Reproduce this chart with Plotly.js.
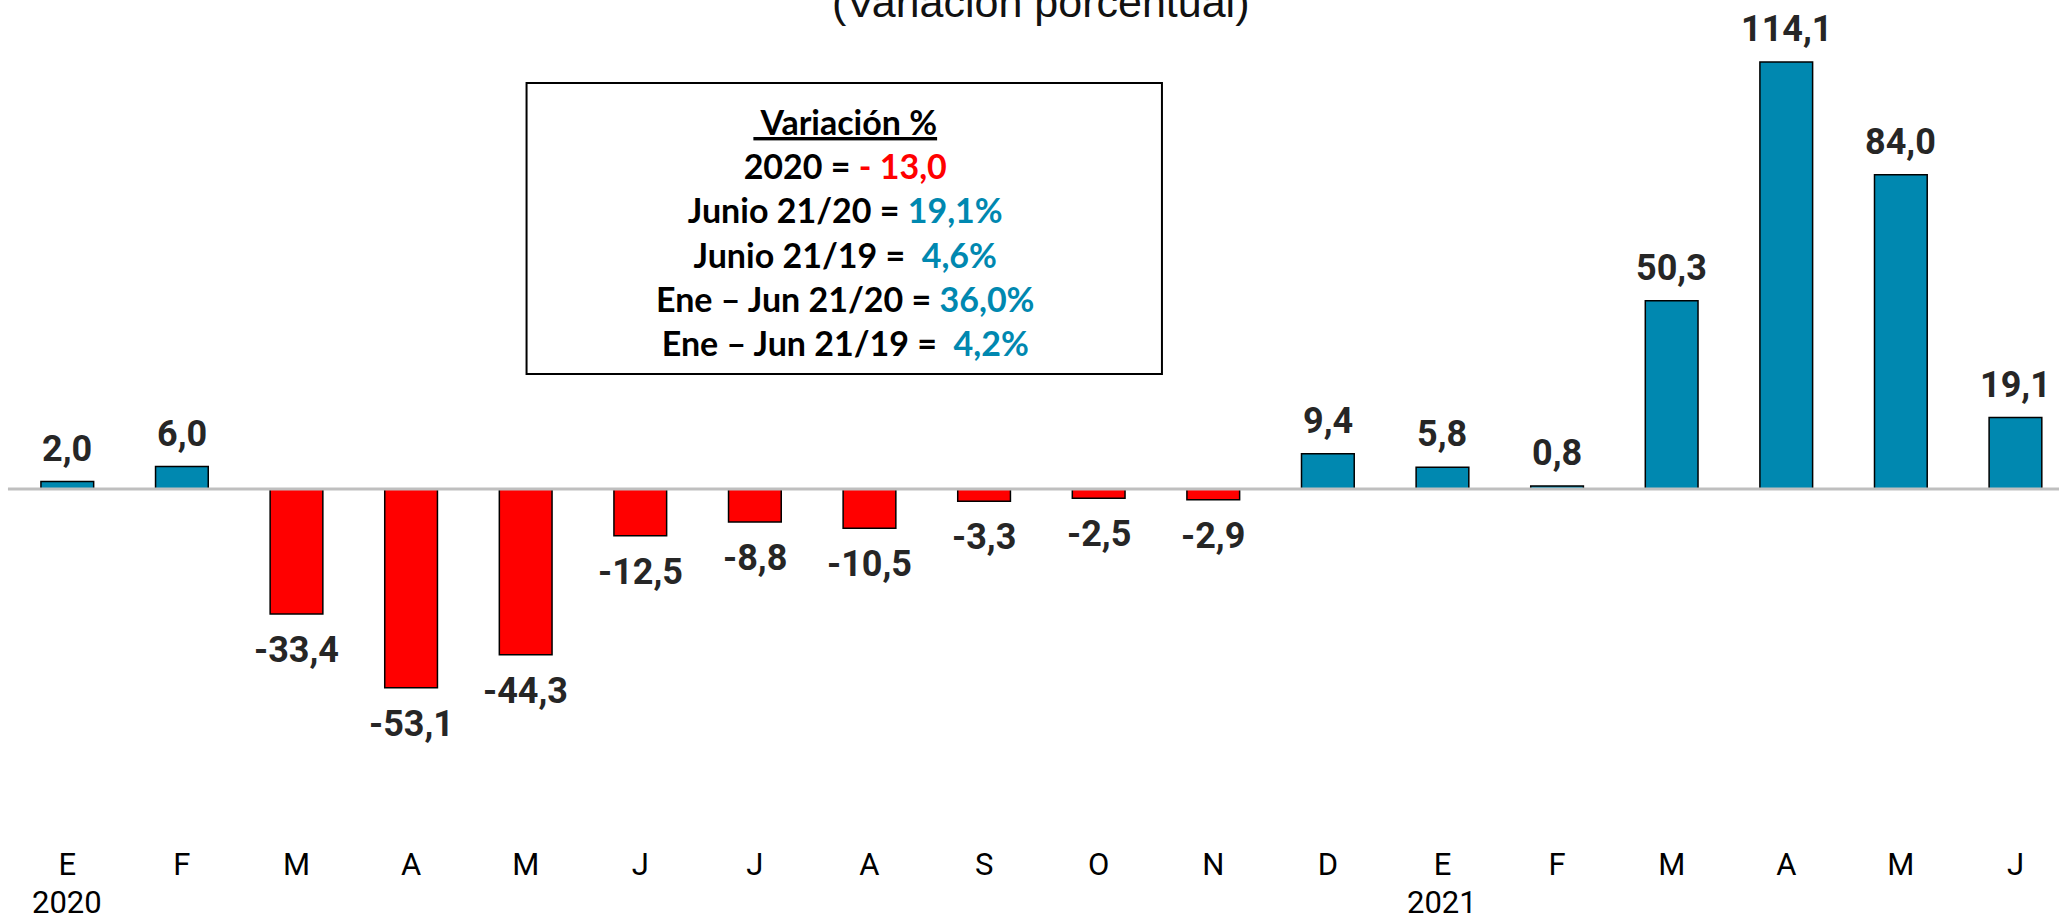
<!DOCTYPE html>
<html>
<head>
<meta charset="utf-8">
<script src="https://cdn.plot.ly/plotly-3.0.1.min.js"></script>
<style>html,body{margin:0;padding:0;background:#fff;}#chart{width:2059px;height:918px;}</style>
</head>
<body>
<div id="chart"></div>
<script>
// ---- data ----
const periods = ["Ene 2020","Feb 2020","Mar 2020","Abr 2020","May 2020","Jun 2020","Jul 2020","Ago 2020","Sep 2020","Oct 2020","Nov 2020","Dic 2020","Ene 2021","Feb 2021","Mar 2021","Abr 2021","May 2021","Jun 2021"];
const monthLabels = ["E","F","M","A","M","J","J","A","S","O","N","D","E","F","M","A","M","J"];
const values = [2.0, 6.0, -33.4, -53.1, -44.3, -12.5, -8.8, -10.5, -3.3, -2.5, -2.9, 9.4, 5.8, 0.8, 50.3, 114.1, 84.0, 19.1];
const yearLabels = ["2020", "2021"];
const yearPeriods = ["Ene 2020", "Ene 2021"];
const titleText = "(Variación porcentual)";
const boxLines = [
  "<u>\u00A0Variación %</u>",
  "2020 = <span style='color:#FF0000'>- 13,0</span>",
  "Junio 21/20 = <span style='color:#0088B0'>19,1%</span>",
  "Junio 21/19 = \u00A0<span style='color:#0088B0'>4,6%</span>",
  "Ene – Jun 21/20 = <span style='color:#0088B0'>36,0%</span>",
  "Ene – Jun 21/19 = \u00A0<span style='color:#0088B0'>4,2%</span>"
];

const BLUE = "#0088B0", RED = "#FF0000";
const fmt = v => v.toFixed(1).replace(".", ",");

const trace = {
  type: "bar",
  x: periods,
  y: values,
  width: 0.46,
  marker: {
    color: values.map(v => v < 0 ? RED : BLUE),
    line: {color: "#000000", width: 1.5}
  },
  hoverinfo: "none"
};

const annotations = values.map((v, i) => ({
  xref: "x", yref: "y", x: periods[i], y: v,
  text: "<b>" + fmt(v) + "</b>",
  showarrow: false,
  yanchor: v < 0 ? "top" : "bottom",
  yshift: v < 0 ? -13 : 10,
  font: {family: "Roboto, Arial, sans-serif", size: 36, color: "#262626"}
}));

yearLabels.forEach((t, i) => {
  annotations.push({
    xref: "x", yref: "paper", x: yearPeriods[i], y: 0,
    text: t, showarrow: false, yanchor: "middle", yshift: -72,
    height: 28, valign: "middle",
    font: {family: "Roboto, Arial, sans-serif", size: 31, color: "#000"}
  });
});

annotations.push({
  xref: "paper", yref: "paper", x: 0.5027, y: 1,
  text: titleText, showarrow: false, yanchor: "top", yshift: 24,
  font: {family: "'Liberation Sans', Arial, sans-serif", size: 43, color: "#111"}
});

annotations.push({
  xref: "paper", yref: "paper", x: 0.4075, y: 0.7199,
  text: "<b>" + boxLines.join("<br>") + "</b>",
  showarrow: false, xanchor: "center", yanchor: "middle", align: "center",
  font: {family: "Lato, 'Open Sans', sans-serif", size: 34, color: "#000"}
});

const layout = {
  width: 2059, height: 918,
  margin: {l: 10, r: 0, t: 0, b: 88, pad: 0},
  paper_bgcolor: "#ffffff", plot_bgcolor: "#ffffff",
  showlegend: false,
  xaxis: {
    type: "category",
    range: [-0.5, 17.38],
    tickmode: "array",
    tickvals: periods,
    ticktext: monthLabels,
    showgrid: false, zeroline: false, showline: false, ticks: "",
    ticklabelstandoff: 13,
    tickfont: {family: "Roboto, Arial, sans-serif", size: 31, color: "#000"}
  },
  yaxis: {
    visible: false,
    range: [-91.13, 130.68],
    showgrid: false, zeroline: false
  },
  shapes: [
    {type: "line", xref: "paper", yref: "y", x0: -0.001, x1: 1, y0: 0, y1: 0,
     line: {color: "#BFBFBF", width: 3}, layer: "above"},
    {type: "rect", xref: "paper", yref: "paper", x0: 0.2521, x1: 0.5622, y0: 0.5494, y1: 0.9,
     line: {color: "#000", width: 2}, fillcolor: "rgba(0,0,0,0)", layer: "above"}
  ],
  annotations: annotations
};

Plotly.newPlot("chart", [trace], layout, {displayModeBar: false, staticPlot: true});
</script>
</body>
</html>
